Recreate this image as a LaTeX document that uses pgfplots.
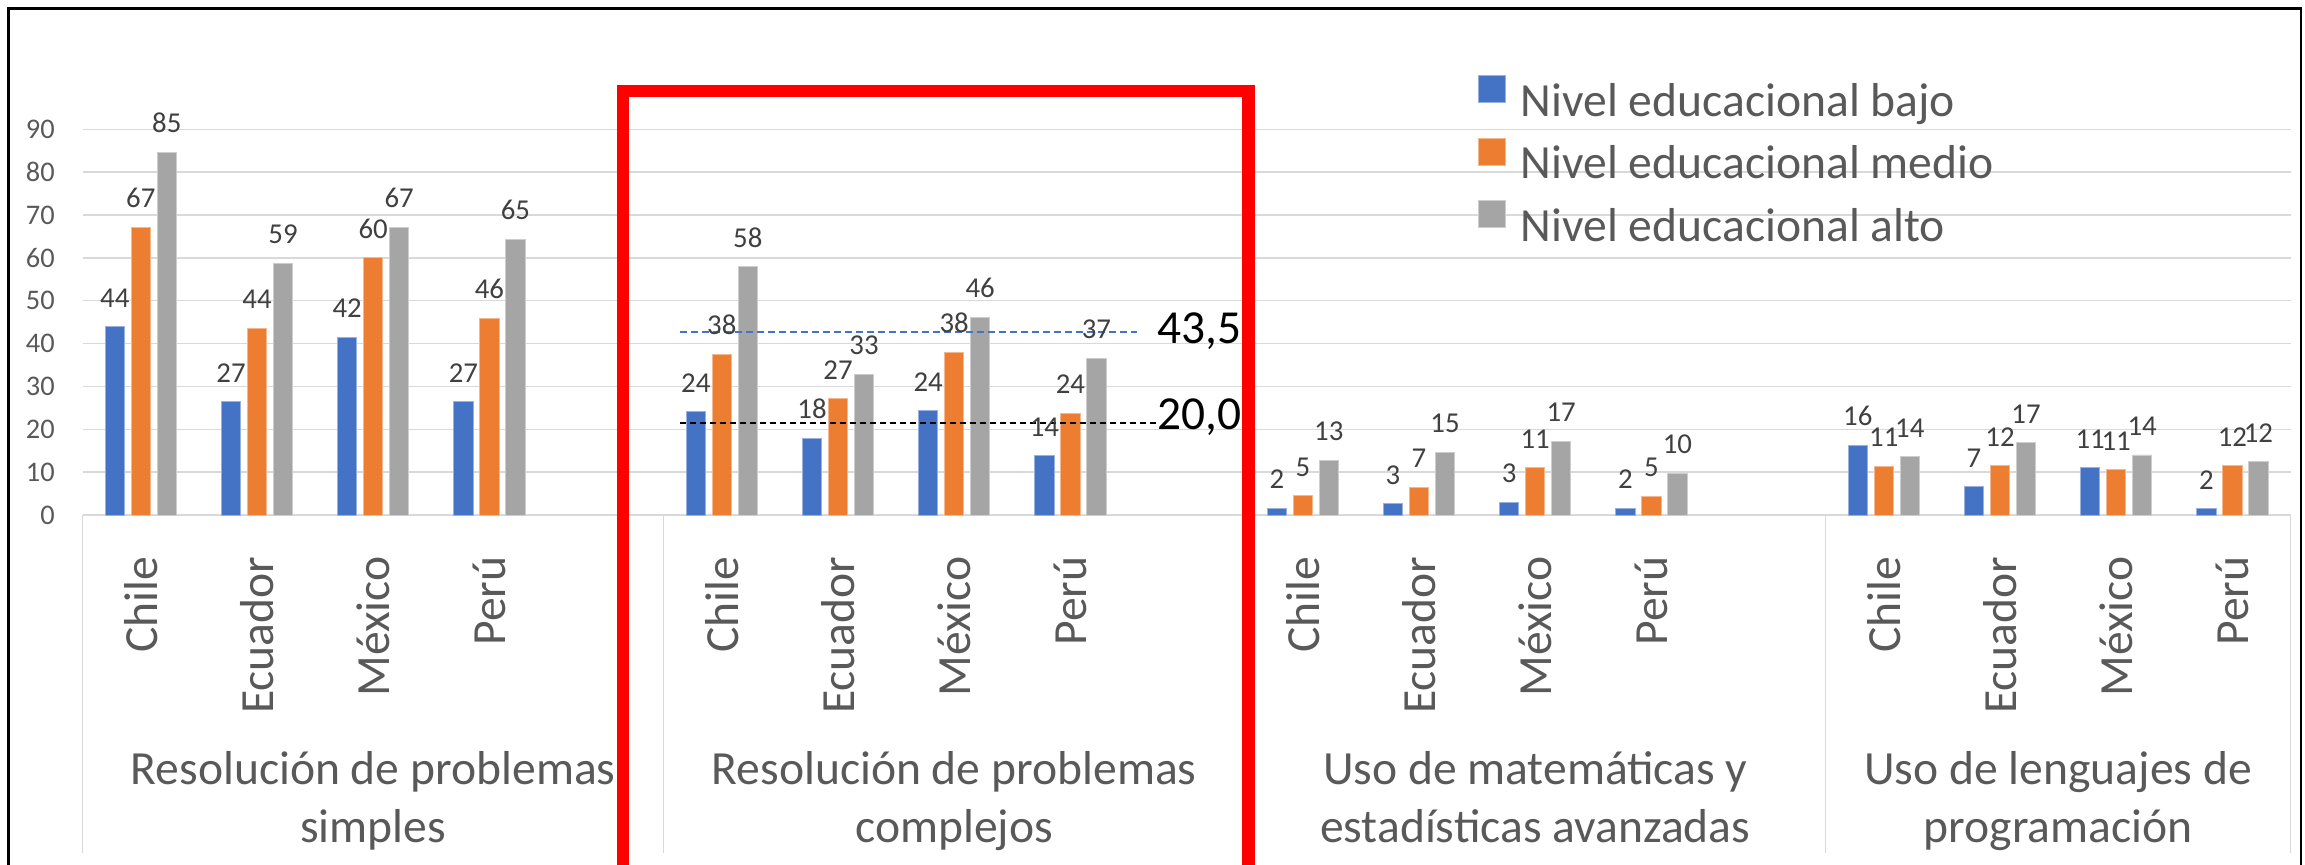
\documentclass[border=0pt]{standalone}
\usepackage{pgfplots}
\pgfplotsset{compat=1.18}
\usepackage{pgfplotstable}
\usepackage{fontspec}
\setmainfont{Carlito}
\definecolor{cblue}{HTML}{4472C4}
\definecolor{corange}{HTML}{ED7D31}
\definecolor{cgray}{HTML}{A5A5A5}
\definecolor{gridc}{HTML}{D9D9D9}
\definecolor{txtc}{HTML}{595959}
\definecolor{labc}{HTML}{404040}

\pgfplotstableread{
x y l
0 43.9 44
1 26.4 27
2 41.5 42
3 26.4 27
5 24.1 24
6 17.9 18
7 24.3 24
8 13.9 14
10 1.6 2
11 2.6 3
12 3.0 3
13 1.6 2
15 16.3 16
16 6.6 7
17 11.0 11
18 1.5 2
}\bajo
\pgfplotstableread{
x y l
0 67.2 67
1 43.6 44
2 60.0 60
3 45.9 46
5 37.5 38
6 27.2 27
7 38.0 38
8 23.8 24
10 4.5 5
11 6.5 7
12 11.0 11
13 4.4 5
15 11.4 11
16 11.5 12
17 10.6 11
18 11.5 12
}\medio
\pgfplotstableread{
x y l
0 84.6 85
1 58.8 59
2 67.1 67
3 64.4 65
5 57.9 58
6 32.8 33
7 46.1 46
8 36.5 37
10 12.8 13
11 14.6 15
12 17.2 17
13 9.7 10
15 13.6 14
16 16.9 17
17 14.0 14
18 12.4 12
}\alto

\pgfplotsset{
  barlab/.style={
    nodes near coords={\pgfplotspointmeta},
    point meta=explicit symbolic,
    nodes near coords style={font=\fontsize{14.4}{17}\selectfont, color=labc, anchor=south, inner sep=0pt, xshift=#1, yshift=9.5pt},
  },
  sq/.style={legend image code/.code={\fill[##1] (0pt,0.9pt) rectangle (13.5pt,14.4pt);}},
}

\begin{document}
\begin{tikzpicture}
\path[use as bounding box] (0,0) rectangle (1152.5pt,432.5pt);
\begin{axis}[
  at={(41.35pt,175pt)}, anchor=south west, scale only axis,
  width=1103.9pt, height=192.85pt,
  xmin=-0.5, xmax=18.5, ymin=0, ymax=90,
  ytick={0,10,...,90}, xtick=\empty,
  ymajorgrids, grid style={gridc, line width=0.7pt},
  axis line style={draw=none}, tick style={draw=none},
  yticklabel style={font=\fontsize{14.2}{17}\selectfont, color=txtc, inner sep=0pt, anchor=east, xshift=-13.8pt},
  /pgf/number format/assume math mode=true,
  clip=false,
  legend cell align=left,
  legend style={at={(0.632,1.1405)}, anchor=north west, draw=none, fill=none,
    inner sep=0pt, outer sep=0pt, row sep=5.6pt, column sep=7.5pt,
    font=\fontsize{23.8}{28}\selectfont\color{txtc},
    nodes={inner sep=0pt, text height=17pt, text depth=5pt}},
]
\addplot[ybar, bar width=9.6pt, bar shift=-13pt, fill=cblue, draw=cblue!55!white, line width=0.4pt, barlab=-13pt, sq] table[x=x, y=y, meta=l]{\bajo};
\addlegendentry{Nivel educacional bajo}
\addplot[ybar, bar width=9.6pt, bar shift=0pt, fill=corange, draw=corange!55!white, line width=0.4pt, barlab=0pt, sq] table[x=x, y=y, meta=l]{\medio};
\addlegendentry{Nivel educacional medio}
\addplot[ybar, bar width=9.6pt, bar shift=13pt, fill=cgray, draw=cgray!55!white, line width=0.4pt, barlab=13pt, sq] table[x=x, y=y, meta=l]{\alto};
\addlegendentry{Nivel educacional alto}

\addplot[forget plot, cblue, line width=1pt, dash pattern=on 3.3pt off 2.2pt] coordinates {(4.64,42.8) (8.57,42.8)};
\addplot[forget plot, black, line width=1.1pt, dash pattern=on 3pt off 2pt] coordinates {(4.64,21.4) (8.75,21.4)};

% separators of the category axis
\draw[gridc, line width=0.7pt] (axis cs:-0.5,0) -- (axis cs:-0.5,-78.9);
\draw[gridc, line width=0.7pt] (axis cs:4.5,0) -- (axis cs:4.5,-78.9);
\draw[gridc, line width=0.7pt] (axis cs:9.5,0) -- (axis cs:9.5,-78.9);
\draw[gridc, line width=0.7pt] (axis cs:14.5,0) -- (axis cs:14.5,-78.9);
\draw[gridc, line width=0.7pt] (axis cs:18.5,0) -- (axis cs:18.5,-78.9);

% country labels
\tikzset{ctry/.style={rotate=90, anchor=east, inner sep=0pt, font=\fontsize{23.8}{28}\selectfont, color=txtc}}
\node[ctry] at (axis cs:0,-9.6) {Chile};
\node[ctry] at (axis cs:1,-9.6) {Ecuador};
\node[ctry] at (axis cs:2,-9.6) {México};
\node[ctry] at (axis cs:3,-9.6) {Perú};
\node[ctry] at (axis cs:5,-9.6) {Chile};
\node[ctry] at (axis cs:6,-9.6) {Ecuador};
\node[ctry] at (axis cs:7,-9.6) {México};
\node[ctry] at (axis cs:8,-9.6) {Perú};
\node[ctry] at (axis cs:10,-9.6) {Chile};
\node[ctry] at (axis cs:11,-9.6) {Ecuador};
\node[ctry] at (axis cs:12,-9.6) {México};
\node[ctry] at (axis cs:13,-9.6) {Perú};
\node[ctry] at (axis cs:15,-9.6) {Chile};
\node[ctry] at (axis cs:16,-9.6) {Ecuador};
\node[ctry] at (axis cs:17,-9.6) {México};
\node[ctry] at (axis cs:18,-9.6) {Perú};

% group labels
\tikzset{grp/.style={anchor=base, inner sep=0pt, font=\fontsize{23.8}{28}\selectfont, color=txtc}}
\node[grp] at (axis cs:2,-62.8) {Resolución de problemas};
\node[grp] at (axis cs:2,-76.5) {simples};
\node[grp] at (axis cs:7,-62.8) {Resolución de problemas};
\node[grp] at (axis cs:7,-76.5) {complejos};
\node[grp] at (axis cs:12,-62.8) {Uso de matemáticas y};
\node[grp] at (axis cs:12,-76.5) {estadísticas avanzadas};
\node[grp] at (axis cs:16.5,-62.8) {Uso de lenguajes de};
\node[grp] at (axis cs:16.5,-76.5) {programación};
\end{axis}

% reference values
\node[anchor=base west, inner sep=0pt, font=\fontsize{23.7}{28}\selectfont] at (578.35pt,260.85pt) {43,5};
\node[anchor=base west, inner sep=0pt, font=\fontsize{23.7}{28}\selectfont] at (578.35pt,217.5pt) {20,0};

% highlight box
\draw[red, line width=6.15pt] (311.4pt,-10pt) -- (311.4pt,387pt) -- (624.25pt,387pt) -- (624.25pt,-10pt);

% outer frame
\draw[black, line width=1.3pt] (4.35pt,-10pt) -- (4.35pt,428.15pt) -- (1150.5pt,428.15pt) -- (1150.5pt,-10pt);
\end{tikzpicture}
\end{document}
